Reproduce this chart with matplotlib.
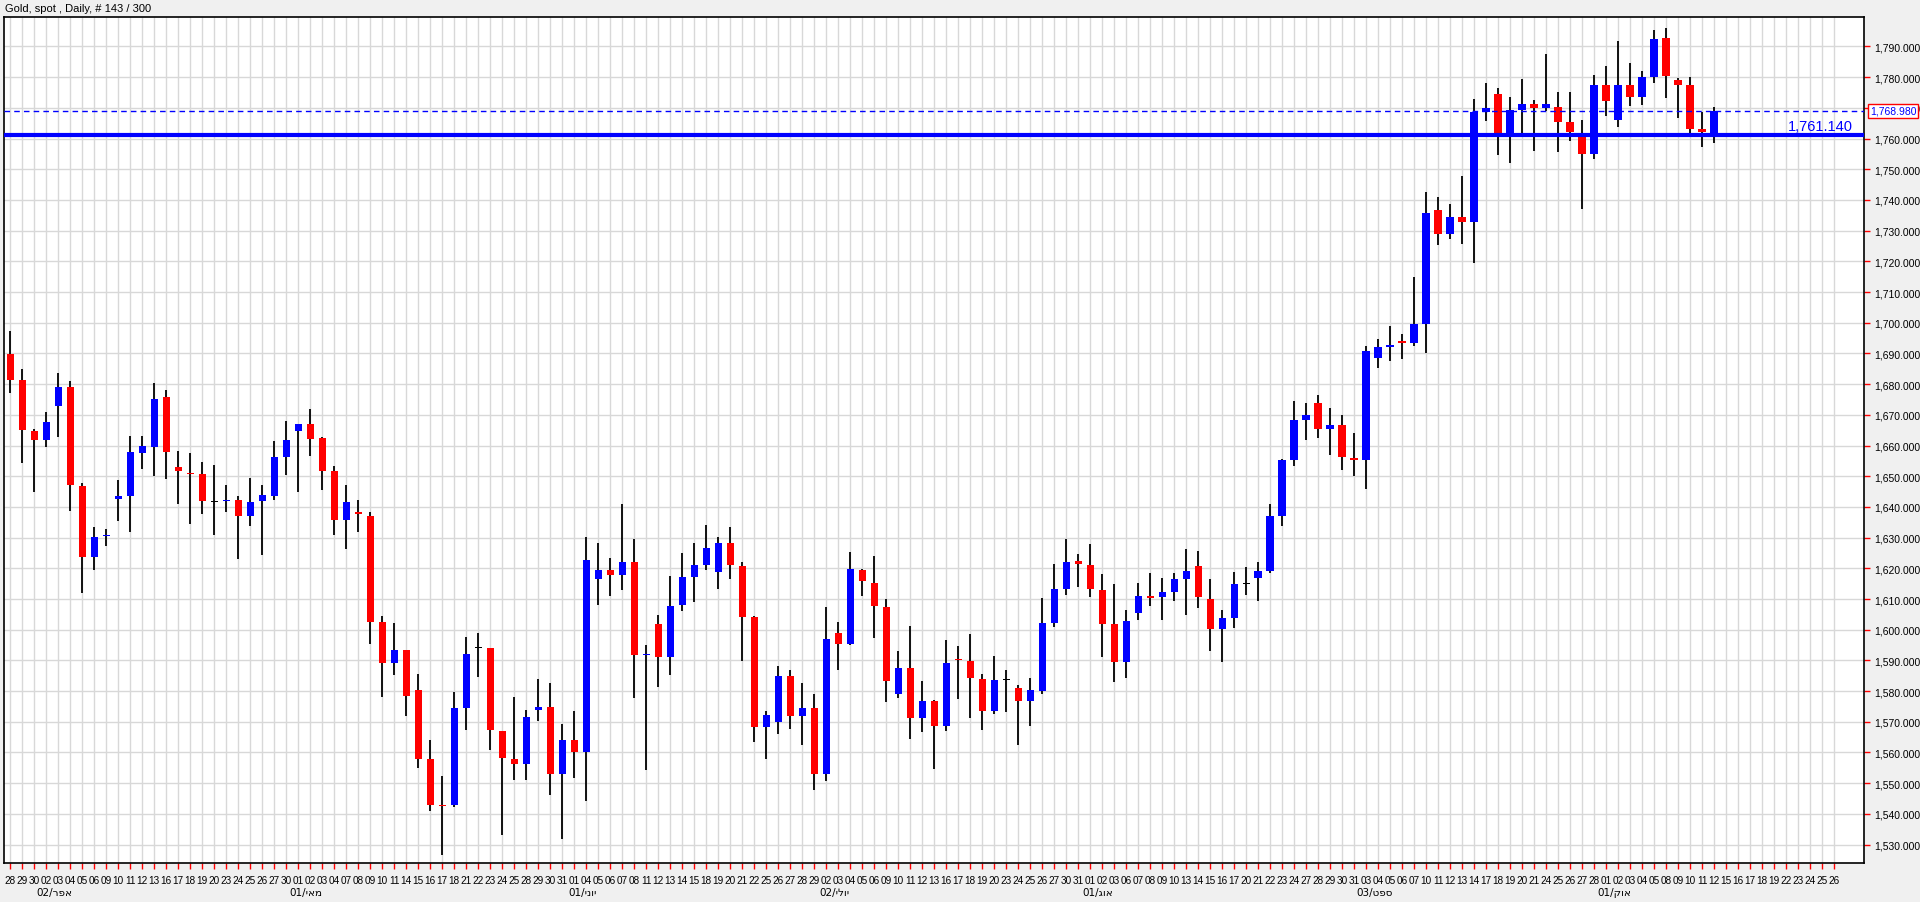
import matplotlib
matplotlib.use('Agg')
import matplotlib.pyplot as plt
import numpy as np
import pandas as pd

# OHLC, one row per daily candle
opens = [1689.8, 1681.3, 1664.6, 1661.8, 1672.9, 1679.0, 1646.7, 1623.7, 1630.6, 1642.5,
         1643.4, 1657.6, 1659.5, 1675.8, 1652.9, 1651.2, 1650.6, 1641.7, 1641.9, 1642.4,
         1637.0, 1642.0, 1643.4, 1656.4, 1664.6, 1666.9, 1662.4, 1651.6, 1635.7, 1638.5,
         1637.2, 1602.5, 1589.0, 1593.4, 1580.3, 1557.9, 1542.9, 1542.9, 1574.5, 1594.0,
         1594.0, 1567.1, 1558.0, 1556.3, 1573.9, 1574.9, 1552.9, 1564.0, 1560.2, 1616.4,
         1619.3, 1617.7, 1622.2, 1591.6, 1601.9, 1591.2, 1608.2, 1617.1, 1621.1, 1618.7,
         1628.1, 1620.9, 1604.2, 1568.4, 1569.8, 1584.9, 1572.0, 1574.5, 1553.0, 1599.0,
         1595.5, 1619.6, 1615.3, 1607.5, 1578.9, 1587.6, 1571.3, 1576.7, 1568.5, 1590.5,
         1589.9, 1584.0, 1573.6, 1583.6, 1581.1, 1576.7, 1579.9, 1602.3, 1613.1, 1622.5,
         1621.2, 1612.8, 1601.9, 1589.4, 1605.5, 1611.0, 1610.5, 1612.3, 1616.4, 1620.9,
         1610.1, 1600.1, 1603.7, 1615.0, 1617.0, 1619.2, 1637.2, 1655.2, 1668.2, 1673.7,
         1665.3, 1666.8, 1656.0, 1655.2, 1688.5, 1692.2, 1693.9, 1693.4, 1699.5, 1736.6,
         1728.9, 1734.3, 1732.8, 1768.6, 1774.6, 1761.0, 1769.3, 1771.1, 1769.9, 1770.4,
         1765.3, 1761.5, 1755.1, 1777.5, 1766.0, 1777.5, 1773.4, 1780.1, 1792.7, 1779.1,
         1777.5, 1763.0, 1761.5]
highs = [1697.3, 1684.9, 1665.3, 1671.0, 1683.6, 1681.1, 1647.9, 1633.6, 1632.9, 1648.9,
         1663.0, 1663.0, 1680.3, 1678.1, 1658.1, 1657.7, 1654.5, 1653.8, 1647.3, 1643.4,
         1649.3, 1647.1, 1661.4, 1668.0, 1666.9, 1671.9, 1662.7, 1653.2, 1647.3, 1642.4,
         1638.5, 1604.5, 1602.3, 1593.4, 1585.5, 1564.1, 1552.3, 1579.7, 1597.5, 1599.0,
         1594.0, 1567.1, 1578.1, 1573.8, 1584.0, 1582.7, 1569.3, 1573.6, 1630.1, 1628.1,
         1623.5, 1641.1, 1629.4, 1595.0, 1604.9, 1617.6, 1624.9, 1628.1, 1634.0, 1630.2,
         1633.3, 1622.2, 1604.5, 1573.6, 1588.2, 1587.0, 1582.8, 1579.0, 1607.3, 1602.5,
         1625.2, 1619.8, 1624.1, 1610.0, 1593.1, 1601.2, 1583.3, 1577.1, 1596.8, 1594.8,
         1598.7, 1585.7, 1591.5, 1587.0, 1581.9, 1584.3, 1610.4, 1621.5, 1629.5, 1624.8,
         1627.8, 1618.3, 1615.0, 1606.5, 1615.3, 1618.5, 1616.7, 1618.5, 1626.4, 1625.5,
         1616.5, 1606.5, 1618.8, 1620.3, 1622.2, 1641.1, 1655.5, 1674.6, 1673.7, 1676.6,
         1672.1, 1669.8, 1664.0, 1692.4, 1694.8, 1698.9, 1696.2, 1715.0, 1742.7, 1740.8,
         1738.8, 1747.9, 1773.0, 1778.2, 1776.6, 1773.7, 1779.5, 1772.7, 1787.5, 1775.2,
         1775.3, 1765.9, 1780.6, 1783.7, 1791.7, 1784.6, 1782.1, 1795.3, 1795.9, 1779.8,
         1780.0, 1768.5, 1770.4]
lows = [1677.2, 1654.3, 1644.8, 1659.5, 1662.9, 1638.6, 1611.8, 1619.4, 1627.2, 1635.4,
        1631.7, 1652.4, 1650.0, 1649.1, 1640.9, 1634.4, 1637.7, 1630.8, 1638.3, 1623.0,
        1633.8, 1624.3, 1642.2, 1650.4, 1644.8, 1656.6, 1645.5, 1630.8, 1626.3, 1631.7,
        1595.2, 1578.2, 1585.4, 1572.0, 1555.0, 1541.0, 1526.7, 1542.4, 1567.4, 1584.6,
        1560.8, 1533.2, 1551.1, 1551.1, 1570.3, 1546.2, 1531.9, 1551.6, 1544.2, 1608.1,
        1611.1, 1612.9, 1577.8, 1554.3, 1581.4, 1585.4, 1606.0, 1608.9, 1619.4, 1613.1,
        1616.4, 1589.9, 1563.4, 1558.0, 1566.1, 1567.7, 1562.5, 1547.8, 1550.8, 1587.0,
        1594.9, 1611.1, 1597.2, 1576.3, 1577.6, 1564.5, 1566.8, 1554.7, 1567.0, 1577.3,
        1571.2, 1567.3, 1572.7, 1573.1, 1562.6, 1568.5, 1579.0, 1600.8, 1611.3, 1613.8,
        1610.5, 1591.2, 1583.1, 1584.3, 1603.1, 1607.8, 1603.1, 1609.3, 1604.9, 1607.0,
        1593.0, 1589.4, 1600.4, 1611.3, 1609.3, 1618.5, 1633.7, 1653.4, 1661.9, 1662.6,
        1657.0, 1652.0, 1650.2, 1645.7, 1685.1, 1687.6, 1688.3, 1692.5, 1690.2, 1725.4,
        1727.3, 1725.7, 1719.6, 1765.7, 1754.7, 1752.2, 1761.5, 1756.0, 1769.0, 1755.7,
        1759.1, 1737.0, 1753.3, 1767.3, 1763.8, 1770.5, 1770.9, 1778.0, 1773.1, 1766.7,
        1761.0, 1757.3, 1758.6]
closes = [1681.3, 1665.1, 1661.8, 1667.6, 1679.0, 1647.2, 1623.7, 1630.1, 1631.0, 1643.4,
          1657.8, 1659.8, 1675.1, 1657.9, 1651.7, 1650.6, 1642.0, 1641.7, 1642.1, 1637.0,
          1641.5, 1643.8, 1656.4, 1661.7, 1666.9, 1662.1, 1651.7, 1635.7, 1641.5, 1637.7,
          1602.6, 1589.0, 1593.4, 1578.5, 1558.0, 1542.9, 1542.5, 1574.5, 1592.1, 1594.0,
          1567.4, 1558.2, 1556.3, 1571.5, 1574.9, 1552.9, 1564.0, 1560.2, 1622.8, 1619.3,
          1617.7, 1622.2, 1591.6, 1591.8, 1591.2, 1607.7, 1617.3, 1621.2, 1626.7, 1628.1,
          1621.1, 1604.3, 1568.4, 1572.2, 1584.9, 1572.0, 1574.5, 1553.0, 1597.1, 1595.5,
          1619.9, 1615.8, 1607.6, 1583.4, 1587.6, 1571.3, 1576.8, 1568.6, 1589.0, 1590.0,
          1584.2, 1573.6, 1583.6, 1583.6, 1576.7, 1580.2, 1602.3, 1613.1, 1622.2, 1621.3,
          1613.2, 1601.9, 1589.4, 1602.9, 1611.1, 1610.3, 1612.3, 1616.4, 1619.2, 1610.5,
          1600.1, 1603.7, 1615.0, 1615.0, 1619.2, 1637.2, 1655.2, 1668.2, 1669.8, 1665.3,
          1666.8, 1656.2, 1655.3, 1690.9, 1692.1, 1692.6, 1693.5, 1699.5, 1735.9, 1728.9,
          1734.3, 1732.8, 1768.5, 1770.1, 1761.0, 1769.3, 1771.1, 1769.9, 1771.4, 1765.4,
          1762.0, 1755.1, 1777.5, 1772.2, 1777.5, 1773.4, 1780.1, 1792.4, 1780.5, 1777.6,
          1763.1, 1762.0, 1768.98]

support_level = 1761.14
last_price = 1768.98
title = "Gold, spot , Daily, # 143 / 300"

# trading days shown on the time axis (incl. empty future slots)
dates = list(pd.bdate_range("2012-03-28", "2012-10-26"))
month_names = {4: "אפר", 5: "מאי", 6: "יוני", 7: "יולי", 8: "אוג", 9: "ספט", 10: "אוק"}

W, H = 1920, 903
fig = plt.figure(figsize=(W / 100, H / 100), dpi=100, facecolor='#f0f0f0')
left, right, top, bottom = 4, 1864, 18, 864
ax = fig.add_axes([left / W, 1 - bottom / H, (right - left) / W, (bottom - top) / H])
ax.set_facecolor('white')

n = len(opens)
xs = np.arange(n)
o = np.array(opens); c = np.array(closes); h = np.array(highs); l = np.array(lows)
colors = np.where(c > o, '#0000ff', np.where(c < o, '#ff0000', '#000000'))

ax.vlines(xs, l, h, color='black', linewidth=1.3, zorder=3)
body_lo = np.minimum(o, c)
body_h = np.maximum(np.abs(c - o), 0.35)
ax.bar(xs, body_h, bottom=body_lo, width=0.6, color=colors, linewidth=0, zorder=4)

# price lines
ax.axhline(support_level, color='#0000ff', linewidth=3, zorder=5)
ax.axhline(last_price, color='#0000ff', linewidth=1, linestyle=(0, (4, 3)), zorder=5)
ax.text(153.6, support_level + 0.6, f"{support_level:,.3f}", color='#0000ff',
        ha='right', va='bottom', fontsize=10.5, family='Liberation Sans', zorder=6)

ax.set_xlim(-0.525, 154.5)
ax.set_ylim(1524.0, 1799.6)

ax.set_xticks(np.arange(len(dates)))
ax.set_xticklabels([d.strftime('%d') for d in dates], fontsize=7.2, family='Liberation Sans')
yt = np.arange(1530, 1791, 10)
ax.set_yticks(yt)
ax.set_yticklabels([f"{v:,.3f}" for v in yt], fontsize=7.5, family='Liberation Sans')
ax.yaxis.tick_right()
ax.tick_params(axis='both', colors='#ff0000', length=4, width=1, labelcolor='black')
ax.tick_params(axis='x', pad=5)
ax.tick_params(axis='y', pad=3)
ax.grid(True, color='#d8d8d8', linewidth=1)
ax.set_axisbelow(True)
for s in ax.spines.values():
    s.set_color('black')
    s.set_linewidth(1.2)

# month labels under first trading day of each month
prev = dates[0].month
for i, d in enumerate(dates):
    if i > 0 and d.month != prev:
        lab = d.strftime('%d') + "/" + month_names[d.month][::-1]
        ax.annotate(lab, xy=(i, 0), xycoords=('data', 'axes fraction'),
                    xytext=(8, -29), textcoords='offset pixels', ha='center', va='center',
                    fontsize=7.5, family='DejaVu Sans')
    prev = d.month

# last price tag on the right axis
ax.annotate(f"{last_price:,.3f}", xy=(1, last_price), xycoords=('axes fraction', 'data'),
            xytext=(6, 0), textcoords='offset pixels', ha='left', va='center',
            fontsize=7.5, family='Liberation Sans', color='#0000ff',
            bbox=dict(boxstyle='square,pad=0.15', fc='white', ec='#ff0000', lw=1))

fig.text(5 / W, 1 - 9 / H, title, ha='left', va='center', fontsize=8, family='Liberation Sans')

fig.savefig('out.png', dpi=100, facecolor=fig.get_facecolor())
